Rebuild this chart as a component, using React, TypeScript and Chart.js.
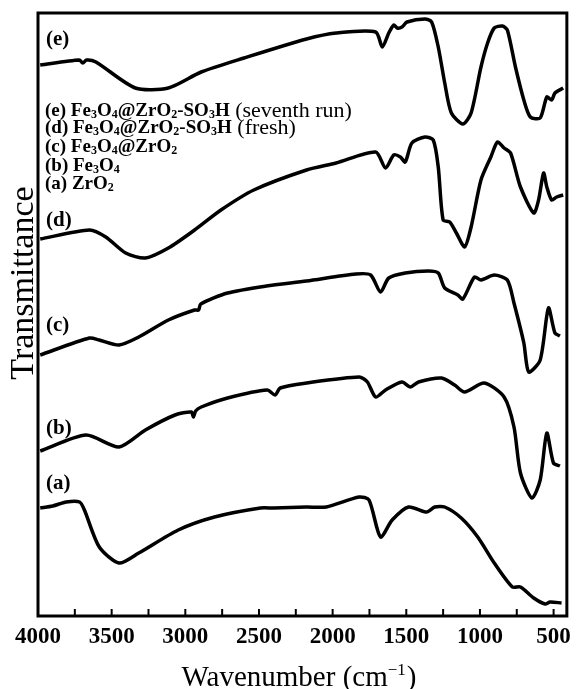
import React, { useEffect, useRef } from "react";
import { Chart, registerables } from "chart.js";
Chart.register(...registerables);

// Wavenumber (cm-1) and transmittance (arbitrary units, offset per curve)
const WN_A = [3985, 3900, 3808, 3718, 3685, 3584, 3450, 3316, 3048, 2802, 2490, 2400, 2177, 2043, 1820, 1753, 1675, 1596, 1485, 1362, 1306, 1239, 1127, 1015, 903, 780, 725, 635, 557, 524, 446];
const T_A = [108, 110, 114, 114, 106, 69, 53, 63, 86, 99, 108, 108, 109, 109, 119, 116, 79, 96, 109, 104, 109, 109, 98, 79, 53, 29, 29, 18, 12, 14, 13];

const WN_B = [3985, 3674, 3450, 3271, 3070, 2959, 2945, 2930, 2892, 2713, 2445, 2390, 2356, 2177, 1820, 1764, 1708, 1641, 1529, 1473, 1417, 1261, 1172, 1105, 971, 836, 769, 725, 647, 591, 546, 501, 457];
const T_B = [165, 181, 169, 186, 201, 204, 199, 205, 209, 218, 226, 221, 228, 233, 239, 234, 219, 226, 234, 229, 234, 238, 231, 224, 233, 219, 189, 143, 118, 136, 183, 153, 150];

const WN_C = [3985, 3651, 3584, 3450, 3316, 3115, 2937, 2910, 2895, 2713, 2450, 2177, 1842, 1742, 1675, 1619, 1507, 1351, 1283, 1239, 1150, 1116, 1037, 993, 903, 814, 769, 702, 669, 591, 535, 491, 457];
const T_C = [261, 278, 276, 271, 279, 296, 306, 306, 312, 323, 330, 335, 342, 341, 324, 338, 343, 345, 343, 328, 321, 317, 339, 336, 341, 336, 313, 273, 244, 256, 308, 283, 280];

const WN_D = [3985, 3651, 3540, 3405, 3271, 3115, 2937, 2758, 2535, 2177, 1976, 1708, 1641, 1585, 1540, 1507, 1462, 1373, 1317, 1283, 1250, 1205, 1160, 1104, 1060, 993, 926, 881, 836, 792, 725, 635, 602, 568, 546, 513, 479, 435];
const T_D = [377, 386, 379, 363, 358, 368, 386, 406, 426, 446, 453, 464, 448, 461, 459, 454, 473, 479, 476, 449, 396, 394, 383, 369, 389, 436, 459, 474, 468, 463, 429, 403, 416, 443, 429, 416, 419, 421];

const WN_E = [3985, 3720, 3696, 3670, 3607, 3339, 3115, 2892, 2601, 2177, 1976, 1708, 1663, 1619, 1585, 1562, 1529, 1495, 1373, 1328, 1283, 1239, 1194, 1116, 1060, 993, 948, 903, 848, 814, 759, 702, 658, 591, 546, 513, 491, 435];
const T_E = [551, 556, 553, 556, 554, 528, 528, 544, 558, 577, 583, 584, 569, 583, 591, 588, 589, 594, 597, 594, 569, 533, 503, 492, 503, 549, 573, 588, 590, 586, 549, 516, 499, 498, 519, 516, 523, 528];

const X_TICKS = [4000, 3750, 3500, 3250, 3000, 2750, 2500, 2250, 2000, 1750, 1500, 1250, 1000, 750, 500];
const X_LABELED = [4000, 3500, 3000, 2500, 2000, 1500, 1000, 500];

const CURVE_LABELS = ["(e)", "(d)", "(c)", "(b)", "(a)"];
const CURVE_LABEL_VALUES = [576, 395, 290, 187, 132];
const LEGEND_MAIN = ["(e) Fe_3O_4@ZrO_2-SO_3H", "(d) Fe_3O_4@ZrO_2-SO_3H", "(c) Fe_3O_4@ZrO_2", "(b) Fe_3O_4", "(a) ZrO_2"];
const LEGEND_NOTE = [" (seventh run)", " (fresh)", "", "", ""];
const Y_TITLE = "Transmittance";
const X_TITLE = "Wavenumber (cm";
const X_TITLE_SUP = "\u22121";
const X_TITLE_END = ")";

const SERIF = '"Liberation Serif", "Times New Roman", serif';

const toPts = (xs: number[], ys: number[]) => xs.map((x, i) => ({ x, y: ys[i] }));

function drawRich(ctx: CanvasRenderingContext2D, x: number, y: number, text: string, size: number, bold: boolean) {
  const parts = text.split(/_(\d)/);
  let cx = x;
  parts.forEach((p, i) => {
    if (!p) return;
    const isSub = i % 2 === 1;
    const fs = isSub ? Math.round(size * 0.62) : size;
    ctx.font = `${bold ? "bold " : ""}${fs}px ${SERIF}`;
    ctx.fillText(p, cx, isSub ? y + size * 0.2 : y);
    cx += ctx.measureText(p).width;
  });
  return cx;
}

const decor = {
  id: "decor",
  afterDraw(chart: any) {
    const { ctx, chartArea } = chart;
    const { left, right, top, bottom } = chartArea;
    const xs = chart.scales.x;
    const ys = chart.scales.y;
    ctx.save();
    ctx.strokeStyle = "#000";
    ctx.fillStyle = "#000";
    // frame
    ctx.lineWidth = 3;
    ctx.strokeRect(left, top, right - left, bottom - top);
    // inward ticks
    ctx.lineWidth = 2;
    X_TICKS.forEach((v) => {
      const px = xs.getPixelForValue(v);
      ctx.beginPath();
      ctx.moveTo(px, bottom);
      ctx.lineTo(px, bottom - 7);
      ctx.stroke();
    });
    // y title
    ctx.save();
    ctx.translate(33, 283);
    ctx.rotate(-Math.PI / 2);
    ctx.font = `34px ${SERIF}`;
    ctx.textAlign = "center";
    ctx.textBaseline = "alphabetic";
    ctx.fillText(Y_TITLE, 0, 0);
    ctx.restore();
    // x title
    ctx.textBaseline = "alphabetic";
    ctx.textAlign = "left";
    ctx.font = `29px ${SERIF}`;
    const w1 = ctx.measureText(X_TITLE).width;
    const w3 = ctx.measureText(X_TITLE_END).width;
    ctx.font = `17px ${SERIF}`;
    const w2 = ctx.measureText(X_TITLE_SUP).width;
    const total = w1 + w2 + w3 + 1;
    let tx = 299 - total / 2;
    const by = 686;
    ctx.font = `29px ${SERIF}`;
    ctx.fillText(X_TITLE, tx, by);
    tx += w1;
    ctx.font = `17px ${SERIF}`;
    ctx.fillText(X_TITLE_SUP, tx, by - 11);
    tx += w2 + 1;
    ctx.font = `29px ${SERIF}`;
    ctx.fillText(X_TITLE_END, tx, by);
    // curve labels
    ctx.textBaseline = "middle";
    ctx.font = `bold 21px ${SERIF}`;
    CURVE_LABELS.forEach((t, i) => {
      ctx.fillText(t, left + 8, ys.getPixelForValue(CURVE_LABEL_VALUES[i]));
    });
    // legend
    const legendY = [111, 128, 147, 166, 184];
    LEGEND_MAIN.forEach((t, i) => {
      const endX = drawRich(ctx, left + 7, legendY[i], t, 19, true);
      if (LEGEND_NOTE[i]) {
        ctx.font = `22px ${SERIF}`;
        ctx.fillText(LEGEND_NOTE[i], endX, legendY[i]);
      }
    });
    ctx.restore();
  },
};

export default function App() {
  const ref = useRef<HTMLCanvasElement>(null);
  useEffect(() => {
    if (!ref.current) return;
    const mk = (xs: number[], ys: number[]) => ({
      data: toPts(xs, ys),
      borderColor: "#000",
      borderWidth: 3.5,
      pointRadius: 0,
      tension: 0.25,
      fill: false,
    });
    const chart = new Chart(ref.current, {
      type: "line",
      data: {
        datasets: [mk(WN_A, T_A), mk(WN_B, T_B), mk(WN_C, T_C), mk(WN_D, T_D), mk(WN_E, T_E)],
      },
      options: {
        animation: false,
        responsive: false,
        devicePixelRatio: 1,
        layout: { padding: { left: 38, right: 6, top: 13, bottom: 0 } },
        plugins: { legend: { display: false }, tooltip: { enabled: false } },
        scales: {
          x: {
            type: "linear",
            reverse: true,
            min: 410,
            max: 4000,
            grid: { display: false, drawTicks: false },
            border: { display: false },
            afterBuildTicks: (s: any) => {
              s.ticks = X_TICKS.map((v) => ({ value: v }));
            },
            afterFit: (s: any) => {
              s.height = 73;
            },
            ticks: {
              autoSkip: false,
              maxRotation: 0,
              padding: 7,
              color: "#000",
              font: { family: SERIF, size: 23, weight: "bold" },
              callback: (v: any) => (X_LABELED.includes(Number(v)) ? String(v) : ""),
            },
          },
          y: {
            display: false,
            min: 0,
            max: 603,
          },
        },
      },
      plugins: [decor],
    });
    return () => chart.destroy();
  }, []);
  return (
    <div style={{ position: "fixed", left: 0, top: 0, width: 578, height: 689, background: "#fff" }}>
      <canvas ref={ref} width={578} height={689} style={{ display: "block" }} />
    </div>
  );
}
